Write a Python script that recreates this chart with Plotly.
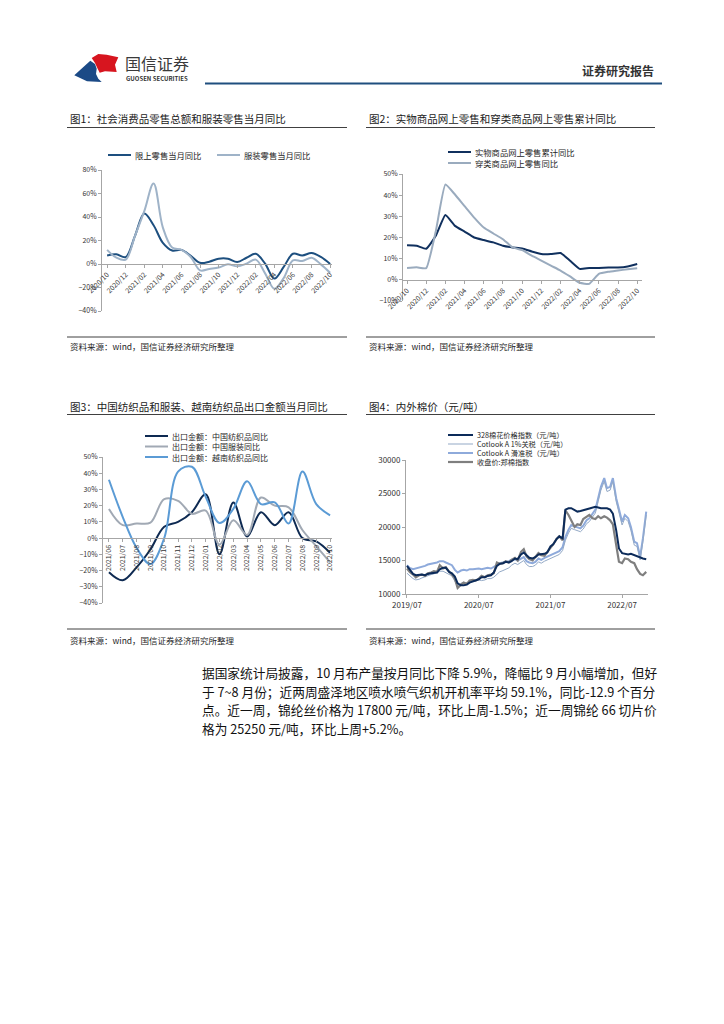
import plotly.graph_objects as go
import pandas as pd

W, H = 724, 1024
FONT = "Noto Sans CJK SC"

# ---------------- Chart 1 data ----------------
c1_months = ["2020/10", "2020/11", "2020/12", "2021/01", "2021/02", "2021/03", "2021/04",
             "2021/05", "2021/06", "2021/07", "2021/08", "2021/09", "2021/10", "2021/11",
             "2021/12", "2022/01", "2022/02", "2022/03", "2022/04", "2022/05", "2022/06",
             "2022/07", "2022/08", "2022/09", "2022/10"]
c1_retail = [7.3, 8.2, 5.9, 24, 43, 33, 18, 11.5, 12, 7, 1, 2, 4.5, 4.5, 1.7, 5.3, 8.7,
             0.3, -12.4, -2.5, 8.7, 7.3, 9.3, 6, 0]
c1_apparel = [12, 5.4, 3.7, 24, 45, 68.5, 31, 14, 12, 6, -5.4, -4.2, -3, -0.3, -2, 0.3, 3.7,
              -8, -21, -12, 3, 2.5, 5.4, -0.3, -7.5]
c1_names = ["限上零售当月同比", "服装零售当月同比"]

# ---------------- Chart 2 data ----------------
c2_months = c1_months
c2_online = [16.3, 16.1, 14.7, 20.8, 30.6, 25.5, 22.8, 20.0, 18.8, 17.7, 16.1, 15.3, 14.8,
             13.4, 12.2, 12.2, 12.7, 9.0, 5.2, 5.6, 5.6, 5.8, 5.8, 6.3, 7.5]
c2_apparel = [5.6, 5.9, 5.5, 23, 45, 40.3, 34.8, 29.4, 24.7, 21.9, 19.2, 15.3, 14.1, 11.4,
              9.1, 6.7, 4.4, 1.6, -1.4, -1.9, 2.8, 3.8, 4.4, 5.0, 5.5]
c2_names = ["实物商品网上零售累计同比", "穿类商品网上零售同比"]

# ---------------- Chart 3 data ----------------
c3_months = ["2021/06", "2021/07", "2021/08", "2021/09", "2021/10", "2021/11", "2021/12",
             "2022/01", "2022/02", "2022/03", "2022/04", "2022/05", "2022/06", "2022/07",
             "2022/08", "2022/09", "2022/10"]
c3_cn_textile = [-21, -26, -18, -7, 7, 10, 16, 27, -10, 22, 1, 16, 8, 16, 0, -2, -9]
c3_cn_apparel = [18, 8, 9, 9.5, 24, 23, 15, 17, -4, 11, 2, 25, 20, 19, 5, -5, -15]
c3_vn_textile = [36, 13, -6, -16, 0, 41, 44, 25.5, 9.3, 18, 35, 21, 22, 9, 41, 21, 14]
c3_names = ["出口金额：中国纺织品同比", "出口金额：中国服装同比", "出口金额：越南纺织品同比"]

# ---------------- Chart 4 data (semi-monthly) ----------------
c4_dates = pd.date_range("2019-07-01", "2022-11-01", freq="SMS")
c4_idx328 = [14200, 13600, 13000, 12800, 12900, 12900, 12800, 13000, 13100, 13200,
             13200, 13700, 13900, 13900, 13300, 13100, 12600, 11600, 11300, 11300,
             11400, 11700, 11900, 12000, 12200, 12500, 12500, 12700, 12800, 13200,
             14200, 14500, 14600, 14800, 14700, 14900, 15300, 15200, 15900, 16200,
             15800, 15400, 15300, 15500, 15900, 15900, 16000, 16200, 17100, 17400,
             18200, 18600, 18300, 22600, 22800, 22800, 22500, 22300, 22400, 22500,
             22600, 22800, 22900, 23000, 22900, 22800, 22800, 22800, 22600, 22000,
             19500, 16800, 16100, 16000, 15900, 16000, 15800, 15600, 15400, 15300,
             15200]
c4_cotlook1 = [13100, 12700, 12300, 12100, 12200, 12400, 12600, 12800, 12900, 13000,
               13200, 13400, 13400, 13200, 13000, 12700, 11900, 11100, 11600, 11700,
               11600, 11800, 11900, 12000, 12100, 12000, 12100, 12300, 12300, 12500,
               13000, 13300, 13500, 13700, 13900, 14300, 14600, 14400, 14700, 15000,
               14400, 14100, 14100, 14300, 14800, 14600, 14900, 15100, 15300, 15500,
               15800, 15900, 16500, 18000, 19100, 19800, 19600, 19500, 19300, 19700,
               20500, 20800, 21500, 22100, 23800, 25500, 26800, 25300, 25500, 26800,
               23800, 22000, 20300, 21300, 20800, 19500, 17300, 17100, 15100, 17800,
               21800]
c4_cotlook_slide = [14300, 13900, 13700, 13800, 13900, 14100, 14200, 14400, 14500, 14600,
                    14700, 14900, 14900, 14700, 14500, 14300, 13600, 13200, 13500, 13600,
                    13500, 13700, 13700, 13800, 13800, 13700, 13800, 13900, 13800, 14000,
                    14300, 14600, 14700, 14800, 14900, 15100, 15200, 15000, 15300, 15500,
                    14900, 14700, 14600, 14800, 15300, 15100, 15400, 15600, 15800, 16000,
                    16300, 16400, 17000, 18500, 19600, 20300, 20100, 20000, 19800, 20200,
                    21000, 21300, 22000, 22600, 24300, 26000, 27300, 25800, 26000, 27300,
                    24300, 22500, 20800, 21800, 21300, 20000, 17800, 17600, 15600, 18300,
                    22300]
c4_zce = [13800, 13300, 12900, 12500, 12800, 12900, 12700, 13100, 13200, 13400,
          13300, 14300, 13800, 14000, 13300, 12900, 12300, 10900, 11400, 11700,
          11500, 12000, 12100, 12000, 12300, 12700, 12500, 12800, 12900, 13100,
          14700, 14500, 14600, 14900, 14700, 15100, 15400, 15000, 16300, 16700,
          15600, 15200, 15000, 15500, 16100, 15800, 15700, 16300, 16800, 17400,
          18200, 18600, 18000, 22500, 21800, 21000, 20000, 20400, 20300, 21200,
          21500, 21800, 21300, 21200, 21600, 21300, 21600, 21400, 21000, 20400,
          17300, 14800, 14600, 15300, 15200, 14800, 14600, 13700, 13000, 12800,
          13300]
c4_names = ["328棉花价格指数（元/吨）", "Cotlook A 1%关税（元/吨）",
            "Cotlook A 滑准税（元/吨）", "收盘价:郑棉指数"]

titles = ["图1：社会消费品零售总额和服装零售当月同比",
          "图2：实物商品网上零售和穿类商品网上零售累计同比",
          "图3：中国纺织品和服装、越南纺织品出口金额当月同比",
          "图4：内外棉价（元/吨）"]
source_text = "资料来源：wind，国信证券经济研究所整理"
body_lines = ["据国家统计局披露，10 月布产量按月同比下降 5.9%，降幅比 9 月小幅增加，但好",
              "于 7~8 月份；近两周盛泽地区喷水喷气织机开机率平均 59.1%，同比-12.9 个百分",
              "点。近一周，锦纶丝价格为 17800 元/吨，环比上周-1.5%；近一周锦纶 66 切片价",
              "格为 25250 元/吨，环比上周+5.2%。"]


def px(x):
    return x / W


def py(y):
    return 1 - y / H


AX = "#a6a6a6"
TICK = "#333333"

fig = go.Figure()

C1 = ["#1d4f7f", "#9fb3c8"]
C2 = ["#10305e", "#9aabbe"]
C3 = ["#0e2a52", "#a1a9b4", "#5b9bd5"]
C4 = ["#0c2b5a", "#93a9c6", "#8eaadb", "#7f7f7f"]
W4 = [2, 1, 2, 2.2]

for vals, col, nm in zip([c1_retail, c1_apparel], C1, c1_names):
    fig.add_trace(go.Scatter(x=c1_months, y=vals, mode="lines", name=nm,
                             line=dict(color=col, width=2, shape="spline", smoothing=1.0),
                             xaxis="x", yaxis="y", showlegend=False))
for vals, col, nm in zip([c2_online, c2_apparel], C2, c2_names):
    fig.add_trace(go.Scatter(x=c2_months, y=vals, mode="lines", name=nm,
                             line=dict(color=col, width=2, shape="spline", smoothing=0.4),
                             xaxis="x2", yaxis="y2", showlegend=False))
for vals, col, nm in zip([c3_cn_textile, c3_cn_apparel, c3_vn_textile], C3, c3_names):
    fig.add_trace(go.Scatter(x=c3_months, y=vals, mode="lines", name=nm,
                             line=dict(color=col, width=2, shape="spline", smoothing=1.0),
                             xaxis="x3", yaxis="y3", showlegend=False))
c4_series = [c4_idx328, c4_cotlook1, c4_cotlook_slide, c4_zce]
for i in [2, 1, 3, 0]:
    fig.add_trace(go.Scatter(x=c4_dates, y=c4_series[i], mode="lines", name=c4_names[i],
                             line=dict(color=C4[i], width=W4[i]),
                             xaxis="x4", yaxis="y4", showlegend=False))

tickfont = dict(family=FONT, size=7, color=TICK)


def yax(top, bottom, rng, dtick, anchor, suffix="%", fmt=None, size=7):
    d = dict(domain=[py(bottom), py(top)], range=rng, dtick=dtick, anchor=anchor,
             showline=True, linecolor=AX, linewidth=1, ticks="outside", ticklen=3,
             tickcolor=AX, showgrid=False, zeroline=False,
             tickfont=dict(family=FONT, size=size, color=TICK),
             ticksuffix=suffix, automargin=False)
    if fmt:
        d["tickformat"] = fmt
    return d


def zero_pos(top, bottom, rng):
    y0, y1 = py(bottom), py(top)
    return y0 + (0 - rng[0]) / (rng[1] - rng[0]) * (y1 - y0)


def cat_x(left, right, rng, top, bottom, yr, angle, vals):
    return dict(domain=[px(left), px(right)], range=rng, type="category",
                anchor="free", position=zero_pos(top, bottom, yr), showline=True,
                linecolor=AX, ticks="outside", ticklen=3, tickcolor=AX, tickangle=angle,
                tickvals=vals, showgrid=False, zeroline=False, tickfont=tickfont,
                automargin=False)


r1 = [-40, 80]
r2 = [-10, 50]
r3 = [-40, 50]
fig.update_layout(
    xaxis=cat_x(102, 332, [-0.55, 24.2], 170, 311, r1, -45, c1_months[::2]),
    yaxis=yax(170, 311, r1, 20, "x"),
    xaxis2=cat_x(403, 642, [-0.42, 24.5], 174, 301, r2, -45, c2_months[::2]),
    yaxis2=yax(174, 301, r2, 10, "x2"),
    xaxis3=cat_x(103, 332, [-0.43, 16.14], 457, 603, r3, -90, c3_months),
    yaxis3=yax(457, 603, r3, 10, "x3"),
    xaxis4=dict(domain=[px(406), px(648)], range=["2019-06-26", "2022-11-10"], type="date",
                anchor="y4", showline=True, linecolor=AX, ticks="outside", ticklen=3,
                tickcolor=AX, tick0="2019-07-01", dtick="M12", tickformat="%Y/%m",
                showgrid=False, zeroline=False, automargin=False,
                tickfont=dict(family=FONT, size=8, color=TICK)),
    yaxis4=yax(460, 594, [10000, 30000], 5000, "x4", suffix="", fmt="d", size=8),
)

annotations = []
shapes = []


def ann(x, y, text, size, color="#222222", xanchor="left", yanchor="middle", bold=False):
    if bold:
        text = "<b>" + text + "</b>"
    annotations.append(dict(x=px(x), y=py(y), xref="paper", yref="paper", text=text,
                            showarrow=False, xanchor=xanchor, yanchor=yanchor,
                            font=dict(family=FONT, size=size, color=color)))


def hline(x0, x1, y, color, width):
    shapes.append(dict(type="line", xref="paper", yref="paper", x0=px(x0), x1=px(x1),
                       y0=py(y), y1=py(y), line=dict(color=color, width=width)))


def path(points, color):
    d = "M " + " L ".join(f"{px(a):.5f},{py(b):.5f}" for a, b in points) + " Z"
    shapes.append(dict(type="path", xref="paper", yref="paper", path=d,
                       fillcolor=color, line=dict(width=0)))


# ---- header ----
path([(74.3, 75.3), (90.3, 60.7), (95, 64), (96.7, 68.7), (96, 74), (98.3, 78.7),
      (101.7, 82), (87, 81.3)], "#1b4a86")
path([(91.7, 58), (98.3, 54), (106.7, 54.7), (118.3, 57.3), (115, 64.7), (116.7, 72),
      (105, 71.3), (99.7, 72.7), (97.3, 68), (95, 63)], "#d7151f")
ann(123, 63, "国信证券", 16, "#3a3a3a")
ann(124, 78.5, "GUOSEN SECURITIES", 6, "#333333", bold=True)
ann(656, 70, "证券研究报告", 12, "#333333", xanchor="right", bold=True)
hline(205, 662, 83.5, "#1f4e7e", 2)

# ---- panel frames ----
panels = [(68, 347, 118, 127.5, 337, 346), (367, 655, 118, 127.5, 337, 346),
          (68, 347, 406, 414.5, 629, 640), (367, 655, 406, 414.5, 629, 640)]
for (x0, x1, ty, tl, sl, st), t in zip(panels, titles):
    ann(x0, ty, t, 10.5, "#1a1a1a")
    hline(x0 - 1, x1, tl, "#404040", 1)
    hline(x0 - 1, x1, sl, "#404040", 1)
    ann(x0, st, source_text, 8.5, "#262626")


def legend_item(x, y, text, color, width, llen=23, size=8.3):
    shapes.append(dict(type="line", xref="paper", yref="paper", x0=px(x), x1=px(x + llen),
                       y0=py(y), y1=py(y), line=dict(color=color, width=width)))
    ann(x + llen + 2, y, text, size, "#262626")


legend_item(108, 155, c1_names[0], C1[0], 2)
legend_item(217, 155, c1_names[1], C1[1], 2)
legend_item(448, 152, c2_names[0], C2[0], 2)
legend_item(448, 163, c2_names[1], C2[1], 2)
for k, yy in enumerate([436, 446.5, 457]):
    legend_item(145, yy, c3_names[k], C3[k], 2, size=8)
for k, yy in enumerate([435, 444, 453, 462]):
    legend_item(448, yy, c4_names[k], C4[k], W4[k], llen=25, size=7.2)

# ---- body text ----
for k, line in enumerate(body_lines):
    ann(200, 672.5 + k * 18.7, line, 12.7, "#111111")

fig.update_layout(width=W, height=H,
                  margin=dict(l=0, r=0, t=0, b=0, pad=0, autoexpand=False),
                  paper_bgcolor="white", plot_bgcolor="white",
                  annotations=annotations, shapes=shapes, showlegend=False)

fig.write_html("out.html", config={"displayModeBar": False},
               post_script="document.body.style.margin='0';")
